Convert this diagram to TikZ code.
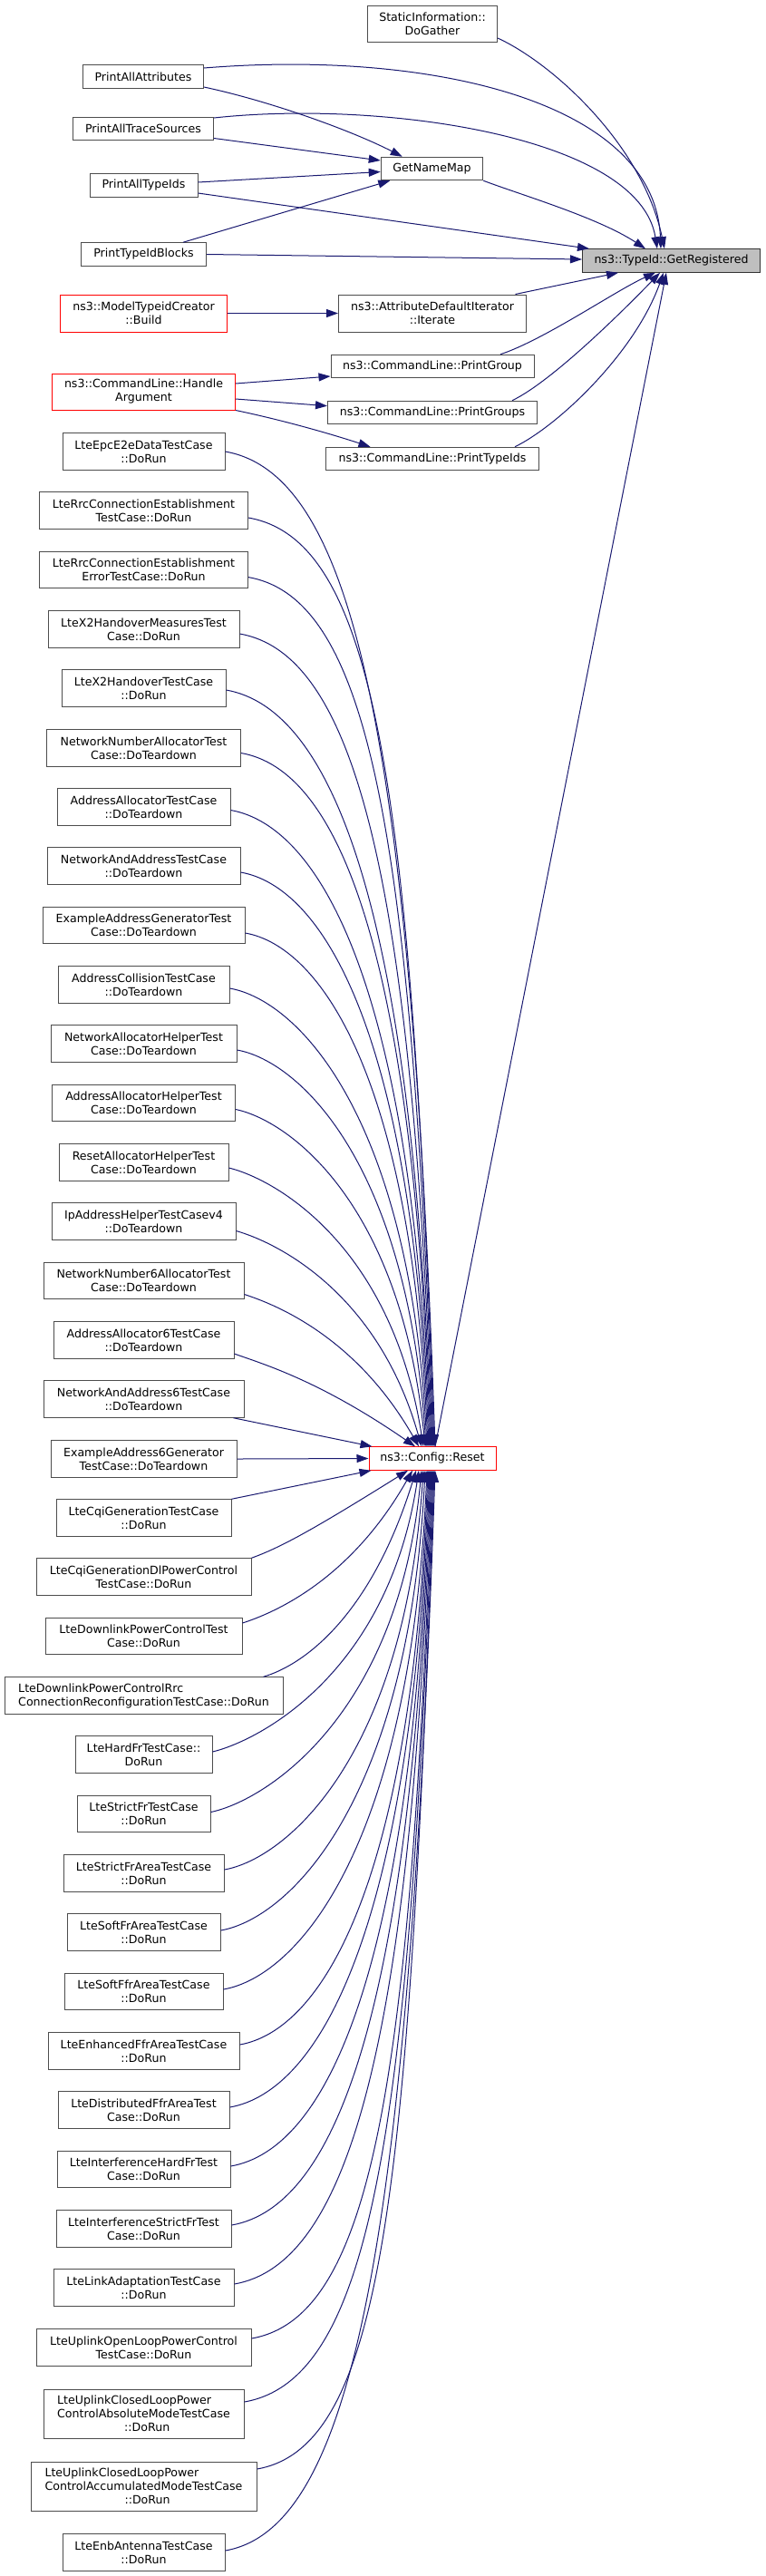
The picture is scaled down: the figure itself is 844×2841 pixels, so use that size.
\documentclass[tikz,border=0pt]{standalone}
\usepackage{fontspec}
\setmainfont{DejaVu Sans}
\usetikzlibrary{arrows.meta,calc}
\definecolor{edgeblue}{HTML}{191970}
\definecolor{boxgray}{HTML}{4D4D4D}
\definecolor{rootfill}{HTML}{BFBFBF}
\tikzset{
  box/.style={draw=boxgray, line width=1pt, fill=white, inner sep=0pt,
    minimum height=25.5pt, align=center, font=\fontsize{12.6}{15}\selectfont},
  box2/.style={box, minimum height=40.5pt},
  box3/.style={box, minimum height=54pt},
  redbox/.style={draw=red},
  rootbox/.style={fill=rootfill, draw=black!80},
  edge/.style={draw=edgeblue, line width=1pt, -{Triangle[length=13pt,width=9pt]}}
}
\newcommand\fanedge[3]{%
  \draw[edge] let \p1=(#1), \p2=(#2),
    \n1={abs((\y1)-(\y2))},
    \n2={min(140,max(30,0.12*\n1+15))},
    \n3={max(10,20-0.03*(\n1-100))},
    \n4={0.72*\n1},
    \n5={min(58,2+53*exp(-(\n1-103)/100))}
  in (\p1) .. controls ($(\p1)+({\n2},{(-1)*(#3)*\n2*tan(\n3)})$)
     and ($(\p2)+({(-1)*\n4*tan(\n5)},{(#3)*\n4})$) .. (\p2);}
\begin{document}
\begin{tikzpicture}[x=1pt,y=1pt]
\fill[white] (0,0) rectangle (844,-2841);
\useasboundingbox (0,0) rectangle (844,-2841);

% top cluster
\node[box2, minimum width=143pt, minimum height=40pt] (si) at (477,-26) {StaticInformation::\\DoGather};
\node[box, minimum width=133pt] (paa) at (158,-84.5) {PrintAllAttributes};
\node[box, minimum width=155pt] (pats) at (158,-142) {PrintAllTraceSources};
\node[box, minimum width=112.5pt] (gnm) at (476.5,-186) {GetNameMap};
\node[box, minimum width=119pt] (pati) at (158.5,-204.5) {PrintAllTypeIds};
\node[box, minimum width=138pt] (ptib) at (158.5,-280.5) {PrintTypeIdBlocks};
\node[box, rootbox, minimum width=196pt] (gr) at (740.5,-287.5) {ns3::TypeId::GetRegistered};
\node[box2, redbox, minimum width=183.5pt, minimum height=41pt] (mtc) at (158.5,-345.5) {ns3::ModelTypeidCreator\\::Build};
\node[box2, minimum width=207pt, minimum height=41pt] (adi) at (477,-345.5) {ns3::AttributeDefaultIterator\\::Iterate};
\node[box, minimum width=224pt] (pg) at (477,-404) {ns3::CommandLine::PrintGroup};
\node[box2, redbox, minimum width=202pt, minimum height=40pt] (ha) at (158.5,-432) {ns3::CommandLine::Handle\\Argument};
\node[box, minimum width=231pt] (pgs) at (477,-455) {ns3::CommandLine::PrintGroups};
\node[box, minimum width=235pt] (pti) at (477,-506) {ns3::CommandLine::PrintTypeIds};
\node[box, redbox, minimum width=140pt] (reset) at (477,-1608.5) {ns3::Config::Reset};

% test cases
\node[box2, minimum width=179pt] (t1) at (158.5,-498) {LteEpcE2eDataTestCase\\::DoRun};
\node[box2, minimum width=230pt] (t2) at (158.5,-563) {LteRrcConnectionEstablishment\\TestCase::DoRun};
\node[box2, minimum width=230pt] (t3) at (158.5,-628.6) {LteRrcConnectionEstablishment\\ErrorTestCase::DoRun};
\node[box2, minimum width=211pt] (t4) at (158.5,-694) {LteX2HandoverMeasuresTest\\Case::DoRun};
\node[box2, minimum width=181pt] (t5) at (158.5,-759) {LteX2HandoverTestCase\\::DoRun};
\node[box2, minimum width=214pt] (t6) at (158.5,-825) {NetworkNumberAllocatorTest\\Case::DoTeardown};
\node[box2, minimum width=191pt] (t7) at (158.5,-890) {AddressAllocatorTestCase\\::DoTeardown};
\node[box2, minimum width=213pt] (t8) at (158.5,-955) {NetworkAndAddressTestCase\\::DoTeardown};
\node[box2, minimum width=223pt] (t9) at (158.5,-1020.5) {ExampleAddressGeneratorTest\\Case::DoTeardown};
\node[box2, minimum width=189pt] (t10) at (158.5,-1086) {AddressCollisionTestCase\\::DoTeardown};
\node[box2, minimum width=205pt] (t11) at (158.5,-1151) {NetworkAllocatorHelperTest\\Case::DoTeardown};
\node[box2, minimum width=202pt] (t12) at (158.5,-1216.5) {AddressAllocatorHelperTest\\Case::DoTeardown};
\node[box2, minimum width=187pt] (t13) at (158.5,-1282) {ResetAllocatorHelperTest\\Case::DoTeardown};
\node[box2, minimum width=203pt] (t14) at (158.5,-1347) {IpAddressHelperTestCasev4\\::DoTeardown};
\node[box2, minimum width=221pt] (t15) at (158.5,-1412.5) {NetworkNumber6AllocatorTest\\Case::DoTeardown};
\node[box2, minimum width=199pt] (t16) at (158.5,-1478) {AddressAllocator6TestCase\\::DoTeardown};
\node[box2, minimum width=221pt] (t17) at (158.5,-1543) {NetworkAndAddress6TestCase\\::DoTeardown};
\node[box2, minimum width=205pt] (t18) at (158.5,-1609) {ExampleAddress6Generator\\TestCase::DoTeardown};
\node[box2, minimum width=193pt] (t19) at (158.5,-1674) {LteCqiGenerationTestCase\\::DoRun};
\node[box2, minimum width=237pt] (t20) at (158.5,-1739) {LteCqiGenerationDlPowerControl\\TestCase::DoRun};
\node[box2, minimum width=217pt] (t21) at (158.5,-1804.5) {LteDownlinkPowerControlTest\\Case::DoRun};
\node[box2, minimum width=307pt, align=left] (t22) at (158.5,-1870) {LteDownlinkPowerControlRrc\\ConnectionReconfigurationTestCase::DoRun};
\node[box2, minimum width=151pt] (t23) at (158.5,-1935) {LteHardFrTestCase::\\DoRun};
\node[box2, minimum width=147pt] (t24) at (158.5,-2000.5) {LteStrictFrTestCase\\::DoRun};
\node[box2, minimum width=177pt] (t25) at (158.5,-2066) {LteStrictFrAreaTestCase\\::DoRun};
\node[box2, minimum width=169pt] (t26) at (158.5,-2131) {LteSoftFrAreaTestCase\\::DoRun};
\node[box2, minimum width=175pt] (t27) at (158.5,-2196.5) {LteSoftFfrAreaTestCase\\::DoRun};
\node[box2, minimum width=211pt] (t28) at (158.5,-2262) {LteEnhancedFfrAreaTestCase\\::DoRun};
\node[box2, minimum width=189pt] (t29) at (158.5,-2327) {LteDistributedFfrAreaTest\\Case::DoRun};
\node[box2, minimum width=191pt] (t30) at (158.5,-2392.5) {LteInterferenceHardFrTest\\Case::DoRun};
\node[box2, minimum width=193pt] (t31) at (158.5,-2458) {LteInterferenceStrictFrTest\\Case::DoRun};
\node[box2, minimum width=199pt] (t32) at (158.5,-2523) {LteLinkAdaptationTestCase\\::DoRun};
\node[box2, minimum width=237pt] (t33) at (158.5,-2589) {LteUplinkOpenLoopPowerControl\\TestCase::DoRun};
\node[box3, minimum width=221pt, align=left] (t34) at (158.5,-2662) {LteUplinkClosedLoopPower\\ControlAbsoluteModeTestCase\\\hspace*{74pt}::DoRun};
\node[box3, minimum width=249pt, align=left] (t35) at (158.5,-2742) {LteUplinkClosedLoopPower\\ControlAccumulatedModeTestCase\\\hspace*{88pt}::DoRun};
\node[box2, minimum width=179pt] (t36) at (158.5,-2815) {LteEnbAntennaTestCase\\::DoRun};

% edges into GetRegistered
\draw[edge] ($(si.east)+(0,-16)$) .. controls (610,-70) and (709,-160) .. ($(gr.north)+(-7.5,0)$);
\draw[edge] ($(paa.east)+(0,9.5)$) .. controls (470,-55) and (722,-110) .. ($(gr.north)+(-11.5,0)$);
\draw[edge] ($(pats.east)+(0,12)$) .. controls (420,-110) and (705,-150) .. ($(gr.north)+(-15.5,0)$);
\draw[edge] (gnm.south east) .. controls (575,-215) and (660,-240) .. ($(gr.north)+(-28.5,0)$);
\draw[edge] ($(pati.east)+(0,-8.5)$) -- ($(gr.north west)+(8,0)$);
\draw[edge] (ptib.east) -- ($(gr.west)+(0,1.5)$);
\draw[edge] ($(adi.north east)+(-12.5,0)$) -- ($(gr.south west)+(40,0)$);
\draw[edge] ($(pg.north)+(75,0)$) .. controls (600,-375) and (680,-320) .. ($(gr.south)+(-17.5,0)$);
\draw[edge] ($(pgs.north)+(88,0)$) .. controls (610,-420) and (690,-340) .. ($(gr.south)+(-12.5,0)$);
\draw[edge] ($(pti.north)+(91,0)$) .. controls (615,-470) and (700,-390) .. ($(gr.south)+(-8.5,0)$);
\draw[edge] ($(reset.north)+(3,0)$) -- ($(gr.south)+(-5.5,0)$);

% edges into GetNameMap
\draw[edge] ($(paa.east)+(0,-11.5)$) .. controls (300,-112) and (390,-145) .. ($(gnm.north west)+(24,0)$);
\draw[edge] ($(pats.east)+(0,-10.5)$) -- ($(gnm.west)+(0,9)$);
\draw[edge] ($(pati.east)+(0,3.5)$) -- ($(gnm.west)+(0,-3.5)$);
\draw[edge] ($(ptib.north)+(43.5,0)$) -- ($(gnm.south west)+(10.5,0)$);

% other
\draw[edge] (mtc.east) -- (adi.west);
\draw[edge] ($(ha.east)+(0,9)$) -- ($(pg.west)+(0,-11)$);
\draw[edge] ($(ha.east)+(0,-8)$) -- ($(pgs.west)+(0,7.3)$);
\draw[edge] (ha.south east) .. controls (310,-463) and (360,-477) .. ($(pti.north west)+(49.5,0)$);

% fan into Config::Reset
\fanedge{t1.east}{$(reset.north)+(3,0)$}{1}
\fanedge{$(t2.east)+(0,-8)$}{$(reset.north)+(2,0)$}{1}
\fanedge{$(t3.east)+(0,-8)$}{$(reset.north)+(1,0)$}{1}
\fanedge{$(t4.east)+(0,-5)$}{reset.north}{1}
\fanedge{$(t5.east)+(0,-2)$}{$(reset.north)+(-1,0)$}{1}
\fanedge{$(t6.east)+(0,-5.5)$}{$(reset.north)+(-2,0)$}{1}
\fanedge{$(t7.east)+(0,-3.5)$}{$(reset.north)+(-3,0)$}{1}
\fanedge{$(t8.east)+(0,-7)$}{$(reset.north)+(-4,0)$}{1}
\fanedge{$(t9.east)+(0,-8.5)$}{$(reset.north)+(-5,0)$}{1}
\fanedge{$(t10.east)+(0,-4)$}{$(reset.north)+(-6,0)$}{1}
\fanedge{$(t11.east)+(0,-7)$}{$(reset.north)+(-7,0)$}{1}
\fanedge{$(t12.east)+(0,-7)$}{$(reset.north)+(-8,0)$}{1}
\fanedge{$(t13.east)+(0,-6)$}{$(reset.north)+(-10,0)$}{1}
\fanedge{$(t14.east)+(0,-10.5)$}{$(reset.north)+(-12,0)$}{1}
\fanedge{$(t15.east)+(0,-15)$}{$(reset.north)+(-15,0)$}{1}
\fanedge{$(t16.east)+(0,-15)$}{$(reset.north)+(-19,0)$}{1}
\draw[edge] ($(t17.south east)+(-12,0)$) -- ($(reset.north west)+(4,0)$);
\draw[edge] (t18.east) -- (reset.west);
\draw[edge] (t19.north east) -- ($(reset.south west)+(3,0)$);
\fanedge{t20.north east}{$(reset.south)+(-27,0)$}{-1}
\fanedge{$(t21.east)+(0,14.5)$}{$(reset.south)+(-22,0)$}{-1}
\fanedge{$(t22.north east)+(-22,0)$}{$(reset.south)+(-18,0)$}{-1}
\fanedge{$(t23.east)+(0,3)$}{$(reset.south)+(-15,0)$}{-1}
\fanedge{$(t24.east)+(0,2)$}{$(reset.south)+(-12,0)$}{-1}
\fanedge{$(t25.east)+(0,4)$}{$(reset.south)+(-10,0)$}{-1}
\fanedge{$(t26.east)+(0,2)$}{$(reset.south)+(-8,0)$}{-1}
\fanedge{$(t27.east)+(0,2.5)$}{$(reset.south)+(-6,0)$}{-1}
\fanedge{$(t28.east)+(0,7)$}{$(reset.south)+(-5,0)$}{-1}
\fanedge{$(t29.east)+(0,3)$}{$(reset.south)+(-4,0)$}{-1}
\fanedge{$(t30.east)+(0,3.5)$}{$(reset.south)+(-3,0)$}{-1}
\fanedge{$(t31.east)+(0,4)$}{$(reset.south)+(-2,0)$}{-1}
\fanedge{$(t32.east)+(0,4)$}{$(reset.south)+(-1,0)$}{-1}
\fanedge{$(t33.east)+(0,10)$}{reset.south}{-1}
\fanedge{$(t34.east)+(0,13)$}{$(reset.south)+(1,0)$}{-1}
\fanedge{$(t35.east)+(0,19)$}{$(reset.south)+(2,0)$}{-1}
\fanedge{$(t36.east)+(0,2)$}{$(reset.south)+(3,0)$}{-1}
\end{tikzpicture}
\end{document}
